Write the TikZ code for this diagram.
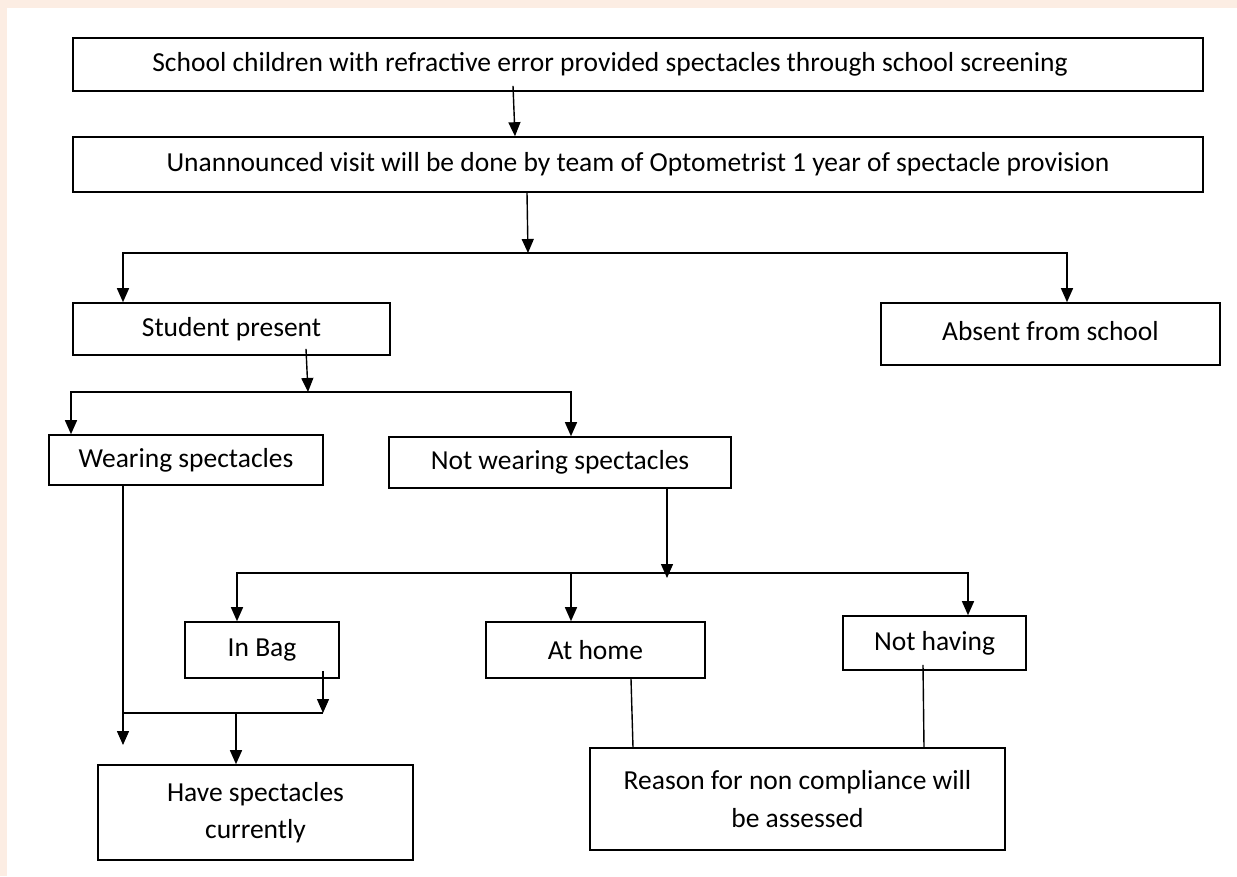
\documentclass[tikz,border=0pt]{standalone}
\usepackage{fontspec}
\setmainfont{Carlito}
\usetikzlibrary{arrows.meta}
\definecolor{peach}{RGB}{252,237,227}
\begin{document}
\begin{tikzpicture}[x=1pt,y=-1pt,
    box/.style={draw, line width=1.6pt, inner sep=0pt, align=center,
      font=\fontsize{27.5}{37.5}\selectfont},
    link/.style={line width=1.4pt},
    arr/.style={link, -{Triangle[length=14pt,width=12pt]}}]
        % page and margins
        \fill[peach] (0,0) rectangle (1237,876);
        \fill[white] (7,8) rectangle (1237,876);
        \useasboundingbox (0,0) rectangle (1237,876);

        % boxes
        \node[box, minimum width=1130pt, minimum height=53pt] (top) at (638,64.5)
            {School children with refractive error provided spectacles through school screening\hspace*{56pt}};
        \node[box, minimum width=1130pt, minimum height=55pt] (visit) at (638,164.5)
            {Unannounced visit will be done by team of Optometrist 1 year of spectacle provision};
        \node[box, minimum width=317pt, minimum height=52pt] (present) at (231.5,329) {Student present};
        \node[box, minimum width=339pt, minimum height=62pt] (absent) at (1050.5,334) {\raisebox{7pt}{Absent from school}};
        \node[box, minimum width=274pt, minimum height=50pt] (wearing) at (186,460) {Wearing spectacles};
        \node[box, minimum width=342pt, minimum height=51pt] (notwearing) at (560,462.5) {Not wearing spectacles};
        \node[box, minimum width=154pt, minimum height=56pt] (inbag) at (262,650) {In Bag};
        \node[box, minimum width=219pt, minimum height=56pt] (athome) at (595.5,650) {At home};
        \node[box, minimum width=183pt, minimum height=54pt] (nothaving) at (934.5,643) {Not having};
        \node[box, minimum width=315pt, minimum height=95pt] (have) at (255.5,812.5)
            {Have spectacles\\currently};
        \node[box, minimum width=415pt, minimum height=102pt] (reason) at (797.5,799)
            {Reason for non compliance will\\be assessed};

        % junctions
        \coordinate (j1) at (528,253);
        \coordinate (j2) at (308,392);
        \coordinate (j3) at (667,573);
        \coordinate (j4) at (236,713);
        \coordinate (loose) at (123,745);

        % first two steps
        \draw[arr] ([xshift=-125pt,yshift=6pt]top.south) -- ([xshift=-123pt]visit.north);
        \draw[arr] ([xshift=-111pt]visit.south) -- (j1);
        \draw[arr] (j1) -| ([xshift=-108.5pt]present.north);
        \draw[arr] (j1) -| ([xshift=16.5pt]absent.north);

        % student present
        \draw[arr] ([xshift=74.5pt,yshift=7pt]present.south) -- (j2);
        \draw[arr] (j2) -| ([xshift=-115pt]wearing.north);
        \draw[arr] (j2) -| ([xshift=11pt]notwearing.north);

        % not wearing spectacles
        \draw[arr] ([xshift=107pt]notwearing.south) -- ([yshift=-5pt]j3);
        \draw[arr] (j3) -| ([xshift=-25pt]inbag.north);
        \draw[arr] (j3) -| ([xshift=33.5pt]nothaving.north);
        \draw[arr] ([xshift=-24.5pt]athome.north |- j3) -- ([xshift=-24.5pt]athome.north);

        % have spectacles
        \draw[arr] ([xshift=-63pt]wearing.south) -- (loose);
        \draw[arr] ([xshift=61pt,yshift=8pt]inbag.south) -- ([xshift=61pt]inbag.south |- j4);
        \draw[link] (loose |- j4) -- ([xshift=61pt]inbag.south |- j4);
        \draw[arr] (j4) -- ([xshift=-19.5pt]have.north);

        % reason for non compliance
        \draw[link] ([xshift=35.5pt]athome.south) -- ([xshift=-164.5pt]reason.north);
        \draw[link] ([xshift=-11.5pt,yshift=6pt]nothaving.south) -- ([xshift=126.5pt]reason.north);
\end{tikzpicture}
\end{document}
